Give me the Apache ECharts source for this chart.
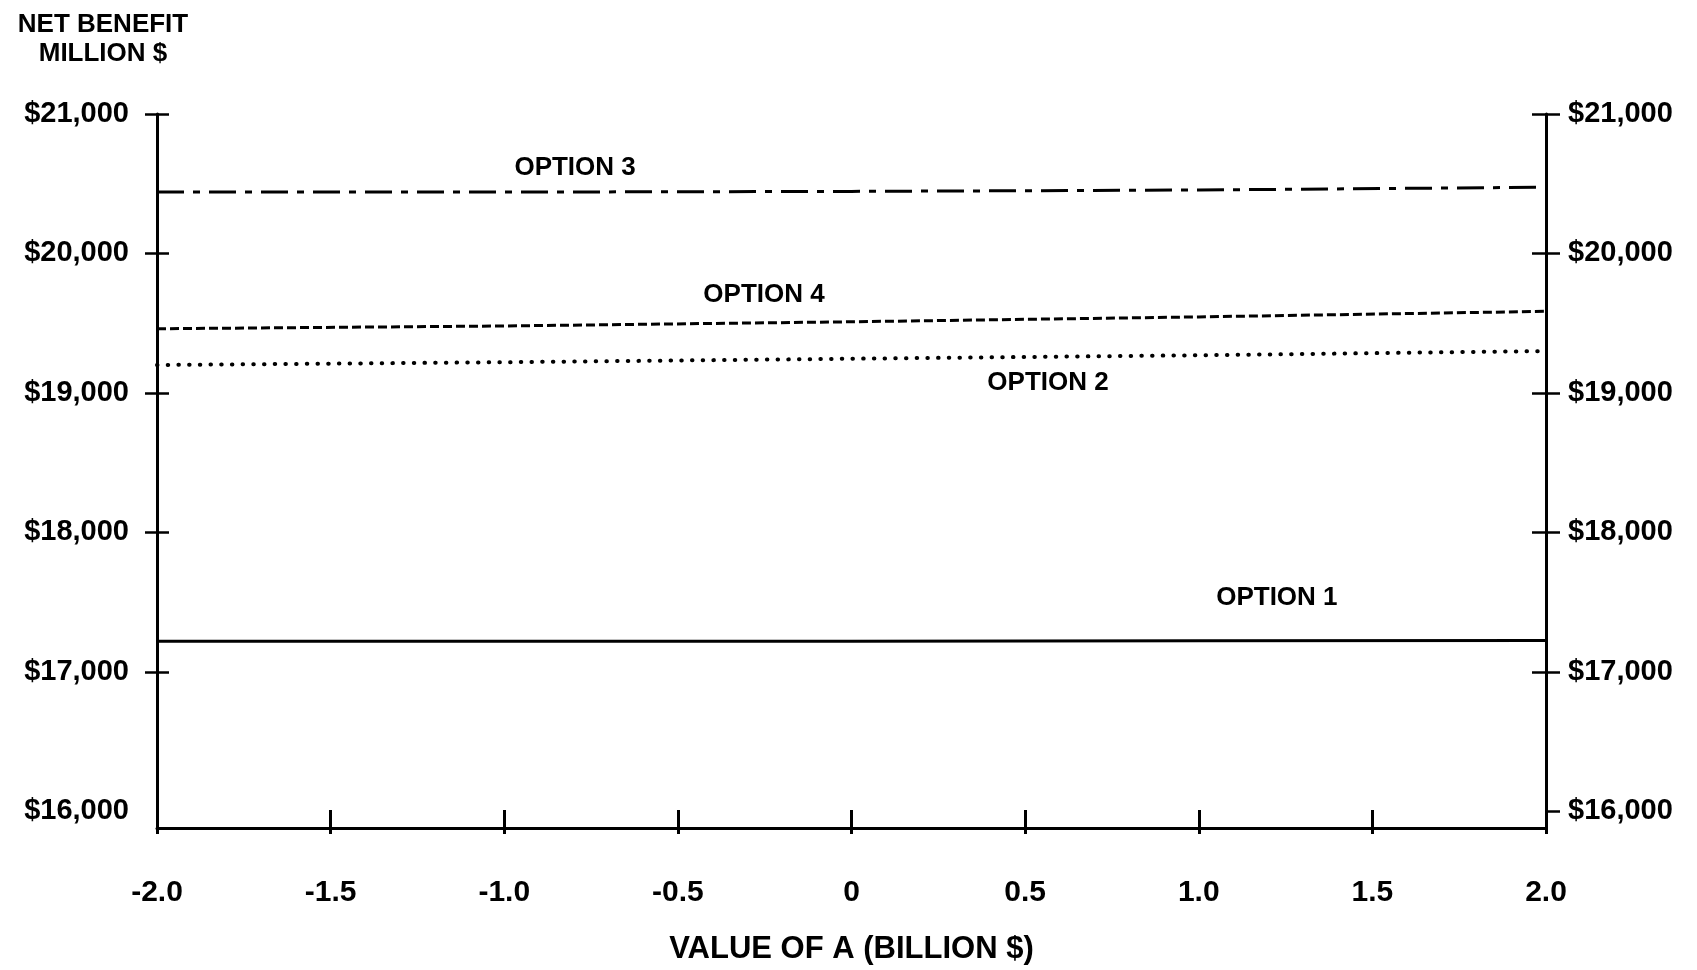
<!DOCTYPE html>
<html>
<head>
<meta charset="utf-8">
<script src="https://cdn.jsdelivr.net/npm/echarts@6/dist/echarts.min.js"></script>
<style>html,body{margin:0;padding:0;background:#fff;}#c{width:1697px;height:970px;}</style>
</head>
<body>
<div id="c"></div>
<script>
// ---- data ----
const aValues = [-2, -1, 0, 1, 2];
const option1 = [17220, 17220, 17220, 17222, 17225];
const option2 = [19200, 19220, 19245, 19270, 19300];
const option3 = [20440, 20440, 20445, 20455, 20475];
const option4 = [19460, 19480, 19510, 19545, 19585];
const yTickValues = [17000, 18000, 19000, 20000, 21000];
const yLabelValues = [16000, 17000, 18000, 19000, 20000, 21000];
const seriesNames = ['OPTION 1', 'OPTION 2', 'OPTION 3', 'OPTION 4'];
// annotation anchors [A value, net benefit, text]
const labelAnchors = [
  [1.225, 17534, 'OPTION 1'],
  [0.566, 19074, 'OPTION 2'],
  [-0.796, 20613, 'OPTION 3'],
  [-0.252, 19706, 'OPTION 4']
];

const FONT = '"Liberation Sans", Arial, Helvetica, sans-serif';
const pair = arr => aValues.map((a, i) => [a, arr[i]]);
const yFmt = v => '$' + v.toLocaleString('en-US');
const xFmt = v => (v === 0 ? '0' : v.toFixed(1));

const yBase = { type: 'value', min: 15880, max: 21000, splitLine: { show: false } };
const lineW = 3;

const chart = echarts.init(document.getElementById('c'));
chart.setOption({
  animation: false,
  backgroundColor: '#fff',
  title: {
    text: 'NET BENEFIT\nMILLION $',
    left: 98, top: 5, textAlign: 'center',
    textStyle: { fontFamily: FONT, fontSize: 26, fontWeight: 'bold', color: '#000', lineHeight: 29 }
  },
  grid: { left: 157, right: 151, top: 114, bottom: 128 },
  xAxis: [
    {
      type: 'value', min: -2, max: 2, interval: 0.5, position: 'bottom',
      axisLine: { show: true, onZero: false, lineStyle: { color: '#000', width: lineW } },
      axisTick: { show: true, inside: false, length: 6, lineStyle: { color: '#000', width: lineW } },
      axisLabel: { show: true, formatter: xFmt, margin: 50, fontFamily: FONT, fontSize: 30, fontWeight: 'bold', color: '#000' },
      splitLine: { show: false },
      name: 'VALUE OF A (BILLION $)', nameLocation: 'middle', nameGap: 106,
      nameTextStyle: { fontFamily: FONT, fontSize: 31, fontWeight: 'bold', color: '#000' }
    },
    {
      type: 'value', min: -2, max: 2, interval: 0.5, position: 'bottom',
      axisLine: { show: false, onZero: false },
      axisTick: { show: true, inside: true, length: 18, lineStyle: { color: '#000', width: lineW } },
      axisLabel: { show: false }, splitLine: { show: false }
    }
  ],
  yAxis: [
    Object.assign({}, yBase, {
      position: 'left',
      axisLine: { show: true, onZero: false, lineStyle: { color: '#000', width: lineW } },
      axisTick: { show: true, inside: false, length: 12, customValues: yTickValues, lineStyle: { color: '#000', width: 2.5 } },
      axisLabel: { show: true, customValues: yLabelValues, formatter: yFmt, margin: 28, fontFamily: FONT, fontSize: 29, fontWeight: 'bold', color: '#000' }
    }),
    Object.assign({}, yBase, {
      position: 'left',
      axisLine: { show: false, onZero: false },
      axisTick: { show: true, inside: true, length: 12, customValues: yTickValues, lineStyle: { color: '#000', width: 2.5 } },
      axisLabel: { show: false }
    }),
    Object.assign({}, yBase, {
      position: 'right',
      axisLine: { show: true, onZero: false, lineStyle: { color: '#000', width: lineW } },
      axisTick: { show: true, inside: false, length: 14, customValues: yLabelValues, lineStyle: { color: '#000', width: 2.5 } },
      axisLabel: { show: true, customValues: yLabelValues, formatter: yFmt, margin: 22, fontFamily: FONT, fontSize: 29, fontWeight: 'bold', color: '#000' }
    }),
    Object.assign({}, yBase, {
      position: 'right',
      axisLine: { show: false, onZero: false },
      axisTick: { show: true, inside: true, length: 14, customValues: yTickValues, lineStyle: { color: '#000', width: 2.5 } },
      axisLabel: { show: false }
    })
  ],
  series: [
    { name: seriesNames[0], type: 'line', data: pair(option1), showSymbol: false, symbol: 'none',
      lineStyle: { color: '#000', width: 3, type: 'solid' } },
    { name: seriesNames[1], type: 'line', data: pair(option2), showSymbol: false, symbol: 'none',
      lineStyle: { color: '#000', width: 4, type: [0.5, 10.2], cap: 'round' } },
    { name: seriesNames[2], type: 'line', data: pair(option3), showSymbol: false, symbol: 'none',
      lineStyle: { color: '#000', width: 3, type: [27, 9, 7, 9] } },
    { name: seriesNames[3], type: 'line', data: pair(option4), showSymbol: false, symbol: 'none',
      lineStyle: { color: '#000', width: 3, type: [9, 4] } },
    { name: 'labels', type: 'scatter', data: labelAnchors, symbolSize: 0, silent: true,
      itemStyle: { opacity: 1, color: '#000' },
      label: { show: true, position: 'inside', formatter: p => p.data[2],
        fontFamily: FONT, fontSize: 26, fontWeight: 'bold', color: '#000', textBorderWidth: 0 } }
  ]
});
</script>
</body>
</html>
